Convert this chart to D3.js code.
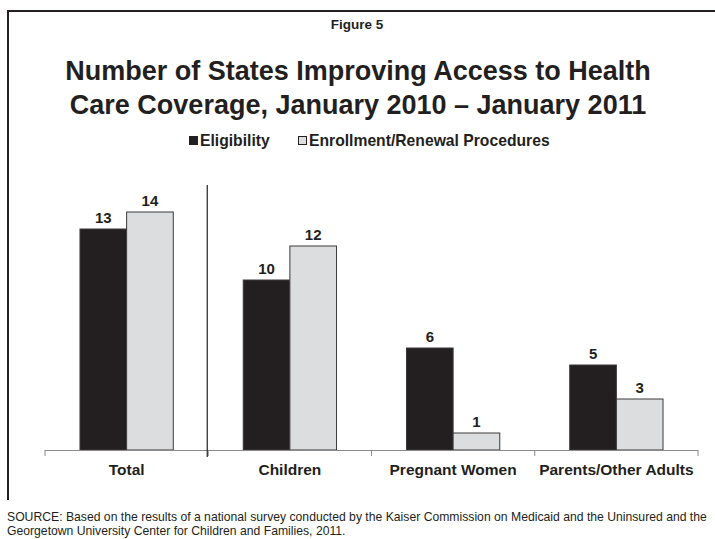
<!DOCTYPE html>
<html>
<head>
<meta charset="utf-8">
<script src="https://cdn.jsdelivr.net/npm/d3@7"></script>
<style>
  html, body { margin: 0; padding: 0; background: #fff; }
  svg { display: block; font-family: Arial, "Liberation Sans", sans-serif; }
</style>
</head>
<body>
<svg id="chart" width="715" height="539"></svg>
<script>
const categories = ["Total", "Children", "Pregnant Women", "Parents/Other Adults"];
const seriesNames = ["Eligibility", "Enrollment/Renewal Procedures"];
const eligibility = [13, 10, 6, 5];
const enrollment = [14, 12, 1, 3];
const seriesColors = ["#231f20", "#dcdddf"];

const data = categories.map((c, i) => ({ cat: c, values: [eligibility[i], enrollment[i]] }));

const svg = d3.select("#chart");
const ink = "#231f20";

// frame lines
svg.append("line").attr("x1", 8).attr("x2", 715).attr("y1", 11).attr("y2", 11)
  .attr("stroke", ink).attr("stroke-width", 2);
svg.append("line").attr("x1", 8).attr("x2", 8).attr("y1", 10).attr("y2", 500)
  .attr("stroke", ink).attr("stroke-width", 2);

// titles
svg.append("text").attr("x", 357).attr("y", 29).attr("text-anchor", "middle")
  .attr("font-size", 13.5).attr("font-weight", "bold").attr("fill", ink).text("Figure 5");
svg.append("text").attr("x", 358).attr("y", 80).attr("text-anchor", "middle")
  .attr("font-size", 27).attr("font-weight", "bold").attr("fill", ink)
  .text("Number of States Improving Access to Health");
svg.append("text").attr("x", 358).attr("y", 114).attr("text-anchor", "middle")
  .attr("font-size", 27).attr("font-weight", "bold").attr("fill", ink)
  .text("Care Coverage, January 2010 \u2013 January 2011");

// legend
const legendX = [189, 298];
seriesNames.forEach((s, i) => {
  const g = svg.append("g").attr("transform", `translate(${legendX[i]},136)`);
  g.append("rect").attr("x", 0.5).attr("y", 0.5).attr("width", 8).attr("height", 8)
    .attr("fill", seriesColors[i]).attr("stroke", ink).attr("stroke-width", 1);
  g.append("text").attr("x", 11).attr("y", 9.5).attr("font-size", 15.7)
    .attr("font-weight", "bold").attr("fill", ink).text(s);
});

// scales
const baseY = 450;
const x0 = d3.scaleBand().domain(categories).range([45, 698]).padding(0);
const x1 = d3.scaleBand().domain(seriesNames).range([0, x0.bandwidth()])
  .paddingInner(0).paddingOuter(0.75);
const y = d3.scaleLinear().domain([0, 16]).range([baseY, baseY - 16 * 17]);

// bars
const groups = svg.append("g").selectAll("g").data(data).join("g")
  .attr("transform", d => `translate(${x0(d.cat)},0)`);

groups.selectAll("rect").data(d => d.values.map((v, i) => ({ v, s: seriesNames[i], i })))
  .join("rect")
  .attr("x", d => x1(d.s))
  .attr("y", d => y(d.v))
  .attr("width", x1.bandwidth())
  .attr("height", d => y(0) - y(d.v))
  .attr("fill", d => seriesColors[d.i])
  .attr("stroke", "#3a3a3a")
  .attr("stroke-width", 1);

groups.selectAll("text.val").data(d => d.values.map((v, i) => ({ v, s: seriesNames[i], i })))
  .join("text").attr("class", "val")
  .attr("x", d => x1(d.s) + x1.bandwidth() / 2)
  .attr("y", d => y(d.v) - 6.5)
  .attr("text-anchor", "middle")
  .attr("font-size", 15).attr("font-weight", "bold").attr("fill", ink)
  .text(d => d.v);

// axis line with boundary ticks
const axisG = svg.append("g");
axisG.append("line").attr("x1", x0.range()[0]).attr("x2", x0.range()[1])
  .attr("y1", baseY + 0.5).attr("y2", baseY + 0.5).attr("stroke", "#8a8a8a").attr("stroke-width", 1);
const bounds = categories.map(c => x0(c)).concat([x0.range()[1]]);
axisG.selectAll("line.tick").data(bounds).join("line").attr("class", "tick")
  .attr("x1", d => d).attr("x2", d => d)
  .attr("y1", baseY).attr("y2", baseY + 6)
  .attr("stroke", "#8a8a8a").attr("stroke-width", 1);

// separator after Total
svg.append("line")
  .attr("x1", x0("Children") - 1).attr("x2", x0("Children") - 1)
  .attr("y1", 185).attr("y2", 457)
  .attr("stroke", ink).attr("stroke-width", 1.2);

// category labels
svg.append("g").selectAll("text").data(categories).join("text")
  .attr("x", d => x0(d) + x0.bandwidth() / 2)
  .attr("y", 475)
  .attr("text-anchor", "middle")
  .attr("font-size", 15.5).attr("font-weight", "bold").attr("fill", ink)
  .text(d => d);

// source
const sourceLines = [
  "SOURCE: Based on the results of a national survey conducted by the Kaiser Commission on Medicaid and the Uninsured and the",
  "Georgetown University Center for Children and Families, 2011."
];
svg.append("g").selectAll("text").data(sourceLines).join("text")
  .attr("x", 7).attr("y", (d, i) => 521 + i * 13.5)
  .attr("font-size", 12.2).attr("fill", ink)
  .text(d => d);
</script>
</body>
</html>
